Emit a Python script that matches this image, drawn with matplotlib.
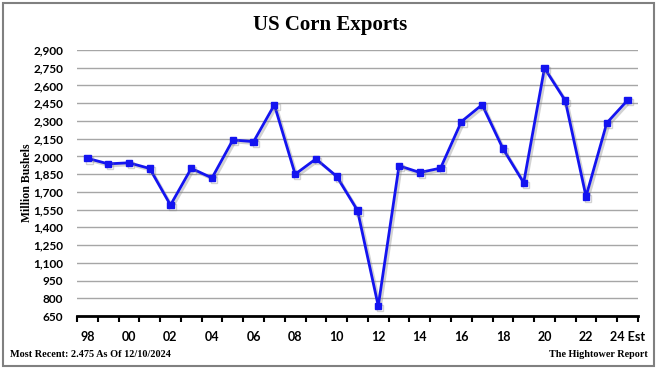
import matplotlib
matplotlib.use("Agg")
from matplotlib import pyplot as plt
from matplotlib import patheffects as pe
from matplotlib.patches import Rectangle
from matplotlib.ticker import FuncFormatter

# marketing years 1998 .. 2024 (2024 estimated)
years = ['98', '99', '00', '01', '02', '03', '04', '05', '06', '07', '08', '09', '10', '11',
         '12', '13', '14', '15', '16', '17', '18', '19', '20', '21', '22', '23', '24 Est']
exports = [1984, 1937, 1946, 1898, 1588, 1899, 1818, 2139, 2125, 2436, 1849, 1979, 1831, 1543,
           735, 1921, 1864, 1901, 2294, 2437, 2066, 1777, 2747, 2472, 1661, 2283, 2475]
y_ticks = list(range(650, 3000, 150))

plt.rcParams['font.family'] = ['Lato', 'DejaVu Sans']

fig = plt.figure(figsize=(6.62, 3.68), dpi=100)
ax = fig.add_axes([0.1163, 0.1413, 0.8474, 0.7228])

x = list(range(len(years)))
ax.plot(x, exports, '-s', color='#1414f0', lw=2.0, ms=4.5, mec='#1414f0',
        path_effects=[pe.SimpleLineShadow(offset=(1.5, -1.5), shadow_color='gray', alpha=0.35),
                      pe.Normal()], zorder=3)

ax.set_xlim(-0.5, len(years) - 0.5)
ax.set_ylim(650, 2900)
ax.set_yticks(y_ticks)
ax.yaxis.set_major_formatter(FuncFormatter(lambda v, p: f'{int(v):,}'))
ax.yaxis.grid(True, color='#a6a6a6', lw=1.0)
ax.set_axisbelow(True)
ax.tick_params(axis='y', length=0, pad=10, labelsize=8.5)
for lbl in ax.get_yticklabels():
    lbl.set_fontweight('bold')

# ticks between categories, labels on every other year
ax.set_xticks([i - 0.5 for i in range(len(years) + 1)])
ax.set_xticklabels([])
ax.tick_params(axis='x', which='major', direction='out', length=4, width=1.5, color='black')
ax.set_xticks(x[::2], minor=True)
ax.set_xticklabels(years[::2], minor=True, fontweight='bold', fontsize=9)
ax.tick_params(axis='x', which='minor', length=0, pad=11)

for s in ['top', 'right', 'left']:
    ax.spines[s].set_visible(False)
ax.spines['bottom'].set_linewidth(2)

ax.set_ylabel('Million Bushels', family='Liberation Serif', fontweight='bold', fontsize=8.5)
ax.yaxis.set_label_coords(-0.079, 0.5)

fig.text(0.4985, 0.932, 'US Corn Exports', ha='center', va='center',
         family='Liberation Serif', fontweight='bold', fontsize=15)
fig.text(0.015, 0.038, 'Most Recent: 2.475 As Of 12/10/2024', ha='left', va='center',
         family='Liberation Serif', fontweight='bold', fontsize=7.4)
fig.text(0.979, 0.038, 'The Hightower Report', ha='right', va='center',
         family='Liberation Serif', fontweight='bold', fontsize=7.3)

fig.patches.append(Rectangle((0.005, 0.006), 0.983, 0.985, transform=fig.transFigure,
                             fill=False, edgecolor='#808080', lw=1.5))

plt.savefig('out.png', dpi=100)
